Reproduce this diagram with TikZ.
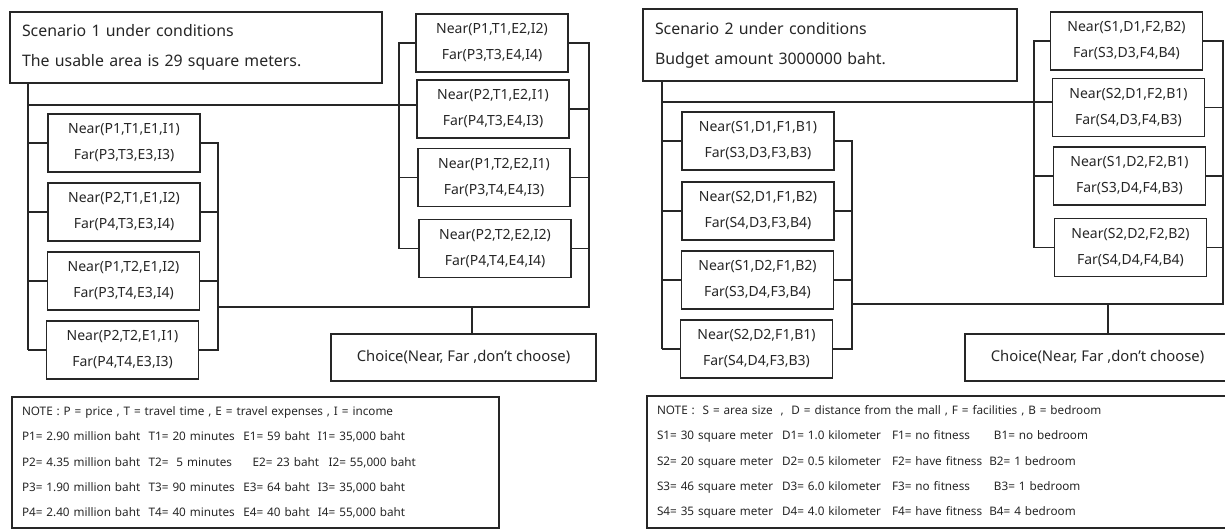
\documentclass[tikz,border=0pt]{standalone}
\usepackage{fontspec}
\setmainfont{Noto Sans}

% one column of a note row
\newcommand{\notecol}[2]{\makebox[#1][l]{#2}}

\begin{document}
\begin{tikzpicture}[x=0.75pt,y=0.75pt,yscale=-1,xscale=1,
  color=black!85,
  titlebox/.style={draw, line width=1pt, inner xsep=9pt, inner ysep=0pt, align=left,
    font=\fontsize{11.9}{22.5}\selectfont},
  pairbox/.style={draw, line width=1pt, minimum width=114pt, minimum height=43.5pt,
    inner sep=0pt, align=center, font=\fontsize{10.5}{19.5}\selectfont},
  choicebox/.style={draw, line width=1pt, minimum width=198.75pt, minimum height=35.25pt,
    inner sep=0pt, font=\fontsize{11.1}{12}\selectfont},
  notebox/.style={draw, line width=1pt, inner xsep=7.5pt, inner ysep=0pt, align=left,
    font=\fontsize{8.8}{19}\selectfont},
  link/.style={line width=1pt}
]
\useasboundingbox (0,0) rectangle (1225,530);

%%%%%%%% Scenario 1 %%%%%%%%
% Title
\node[titlebox, text width=261pt, minimum height=53.25pt] (title1) at (196,47.5)
  {Scenario 1 under conditions\\The usable area is 29 square meters.};

% Left group
\node[pairbox] (a1) at (124,143) {Near(P1,T1,E1,I1)\\Far(P3,T3,E3,I3)};
\node[pairbox] (a2) at (124,212) {Near(P2,T1,E1,I2)\\Far(P4,T3,E3,I4)};
\node[pairbox] (a3) at (123.5,281) {Near(P1,T2,E1,I2)\\Far(P3,T4,E3,I4)};
\node[pairbox] (a4) at (122.5,350) {Near(P2,T2,E1,I1)\\Far(P4,T4,E3,I3)};

% Right group
\node[pairbox] (b1) at (492,43) {Near(P1,T1,E2,I2)\\Far(P3,T3,E4,I4)};
\node[pairbox] (b2) at (493,109) {Near(P2,T1,E2,I1)\\Far(P4,T3,E4,I3)};
\node[pairbox] (b3) at (494,177.5) {Near(P1,T2,E2,I1)\\Far(P3,T4,E4,I3)};
\node[pairbox] (b4) at (495,248.5) {Near(P2,T2,E2,I2)\\Far(P4,T4,E4,I4)};

% Choice
\node[choicebox] (c1) at (463.5,357.5) {Choice(Near, Far ,don't choose)};

% Note
\node[notebox, text width=350.25pt, minimum height=98.25pt] (note1) at (255.5,462.5)
  {NOTE : P = price , T = travel time , E = travel expenses , I = income\\
   \notecol{95pt}{P1= 2.90 million baht}\notecol{71pt}{T1= 20 minutes}\notecol{56pt}{E1= 59 baht}I1= 35,000 baht\\
   \notecol{95pt}{P2= 4.35 million baht}\notecol{78pt}{T2=~~5 minutes}\notecol{57pt}{E2= 23 baht}I2= 55,000 baht\\
   \notecol{95pt}{P3= 1.90 million baht}\notecol{71pt}{T3= 90 minutes}\notecol{56pt}{E3= 64 baht}I3= 35,000 baht\\
   \notecol{95pt}{P4= 2.40 million baht}\notecol{71pt}{T4= 40 minutes}\notecol{56pt}{E4= 40 baht}I4= 55,000 baht};

% Joints
\coordinate (m1) at (28,105);
\coordinate (ra1) at (218,307);
\coordinate (lb1) at (399,105);
\coordinate (rb1) at (589,307);
\coordinate (j1) at (472,307);

% Connectors
\draw[link] (title1.south -| m1) -- (m1 |- a4.west);
\draw[link] (m1) -- (m1 -| b2.west);
\draw[link] (a1.west) -- (a1.west -| m1);
\draw[link] (a2.west) -- (a2.west -| m1);
\draw[link] (a3.west) -- (a3.west -| m1);
\draw[link] (a4.west) -- (a4.west -| m1);
\draw[link] (a1.east) -| (a4.east -| ra1) -- (a4.east);
\draw[link] (a2.east) -- (a2.east -| ra1);
\draw[link] (a3.east) -- (a3.east -| ra1);
\draw[link] (b1.west) -| (b4.west -| lb1) -- (b4.west);
\draw[link] (b3.west) -- (b3.west -| lb1);
\draw[link] (b1.east) -| (rb1) -- (ra1);
\draw[link] (b2.east) -- (b2.east -| rb1);
\draw[link] (b3.east) -- (b3.east -| rb1);
\draw[link] (b4.east) -- (b4.east -| rb1);
\draw[link] (j1) -- (j1 |- c1.north);

%%%%%%%% Scenario 2 %%%%%%%%
% Title
\node[titlebox, text width=262.5pt, minimum height=54pt] (title2) at (830,45)
  {Scenario 2 under conditions\\Budget amount 3000000 baht.};

% Left group
\node[pairbox] (s1) at (758,141) {Near(S1,D1,F1,B1)\\Far(S3,D3,F3,B3)};
\node[pairbox] (s2) at (758,211) {Near(S2,D1,F1,B2)\\Far(S4,D3,F3,B4)};
\node[pairbox] (s3) at (757.5,280) {Near(S1,D2,F1,B2)\\Far(S3,D4,F3,B4)};
\node[pairbox] (s4) at (756.5,349) {Near(S2,D2,F1,B1)\\Far(S4,D4,F3,B3)};

% Right group
\node[pairbox] (t1) at (1126.5,41) {Near(S1,D1,F2,B2)\\Far(S3,D3,F4,B4)};
\node[pairbox] (t2) at (1128.5,107.5) {Near(S2,D1,F2,B1)\\Far(S4,D3,F4,B3)};
\node[pairbox] (t3) at (1129.5,176) {Near(S1,D2,F2,B1)\\Far(S3,D4,F4,B3)};
\node[pairbox] (t4) at (1130.5,247.5) {Near(S2,D2,F2,B2)\\Far(S4,D4,F4,B4)};

% Choice
\node[choicebox] (c2) at (1097.5,357.5) {Choice(Near, Far ,don't choose)};

% Note
\node[notebox, text width=426pt, minimum height=99pt] (note2) at (941,462)
  {NOTE :~ S = area size~ ,~ D = distance from the mall , F = facilities , B = bedroom\\
   \notecol{93.75pt}{S1= 30 square meter}\notecol{82.5pt}{D1= 1.0 kilometer}\notecol{76.5pt}{F1= no fitness}B1= no bedroom\\
   \notecol{93.75pt}{S2= 20 square meter}\notecol{82.5pt}{D2= 0.5 kilometer}\notecol{73pt}{F2= have fitness}B2= 1 bedroom\\
   \notecol{93.75pt}{S3= 46 square meter}\notecol{82.5pt}{D3= 6.0 kilometer}\notecol{76.5pt}{F3= no fitness}B3= 1 bedroom\\
   \notecol{93.75pt}{S4= 35 square meter}\notecol{82.5pt}{D4= 4.0 kilometer}\notecol{73pt}{F4= have fitness}B4= 4 bedroom};

% Joints
\coordinate (m2) at (662,102);
\coordinate (ra2) at (852,304);
\coordinate (lb2) at (1034,102);
\coordinate (rb2) at (1223,304);
\coordinate (j2) at (1108,304);

% Connectors
\draw[link] (title2.south -| m2) -- (m2 |- s4.west);
\draw[link] (m2) -- (m2 -| t2.west);
\draw[link] (s1.west) -- (s1.west -| m2);
\draw[link] (s2.west) -- (s2.west -| m2);
\draw[link] (s3.west) -- (s3.west -| m2);
\draw[link] (s4.west) -- (s4.west -| m2);
\draw[link] (s1.east) -| (s4.east -| ra2) -- (s4.east);
\draw[link] (s2.east) -- (s2.east -| ra2);
\draw[link] (s3.east) -- (s3.east -| ra2);
\draw[link] (t1.west) -| (t4.west -| lb2) -- (t4.west);
\draw[link] (t3.west) -- (t3.west -| lb2);
\draw[link] (t1.east) -| (rb2) -- (ra2);
\draw[link] (t2.east) -- (t2.east -| rb2);
\draw[link] (t3.east) -- (t3.east -| rb2);
\draw[link] (t4.east) -- (t4.east -| rb2);
\draw[link] (j2) -- (j2 |- c2.north);

\end{tikzpicture}
\end{document}
